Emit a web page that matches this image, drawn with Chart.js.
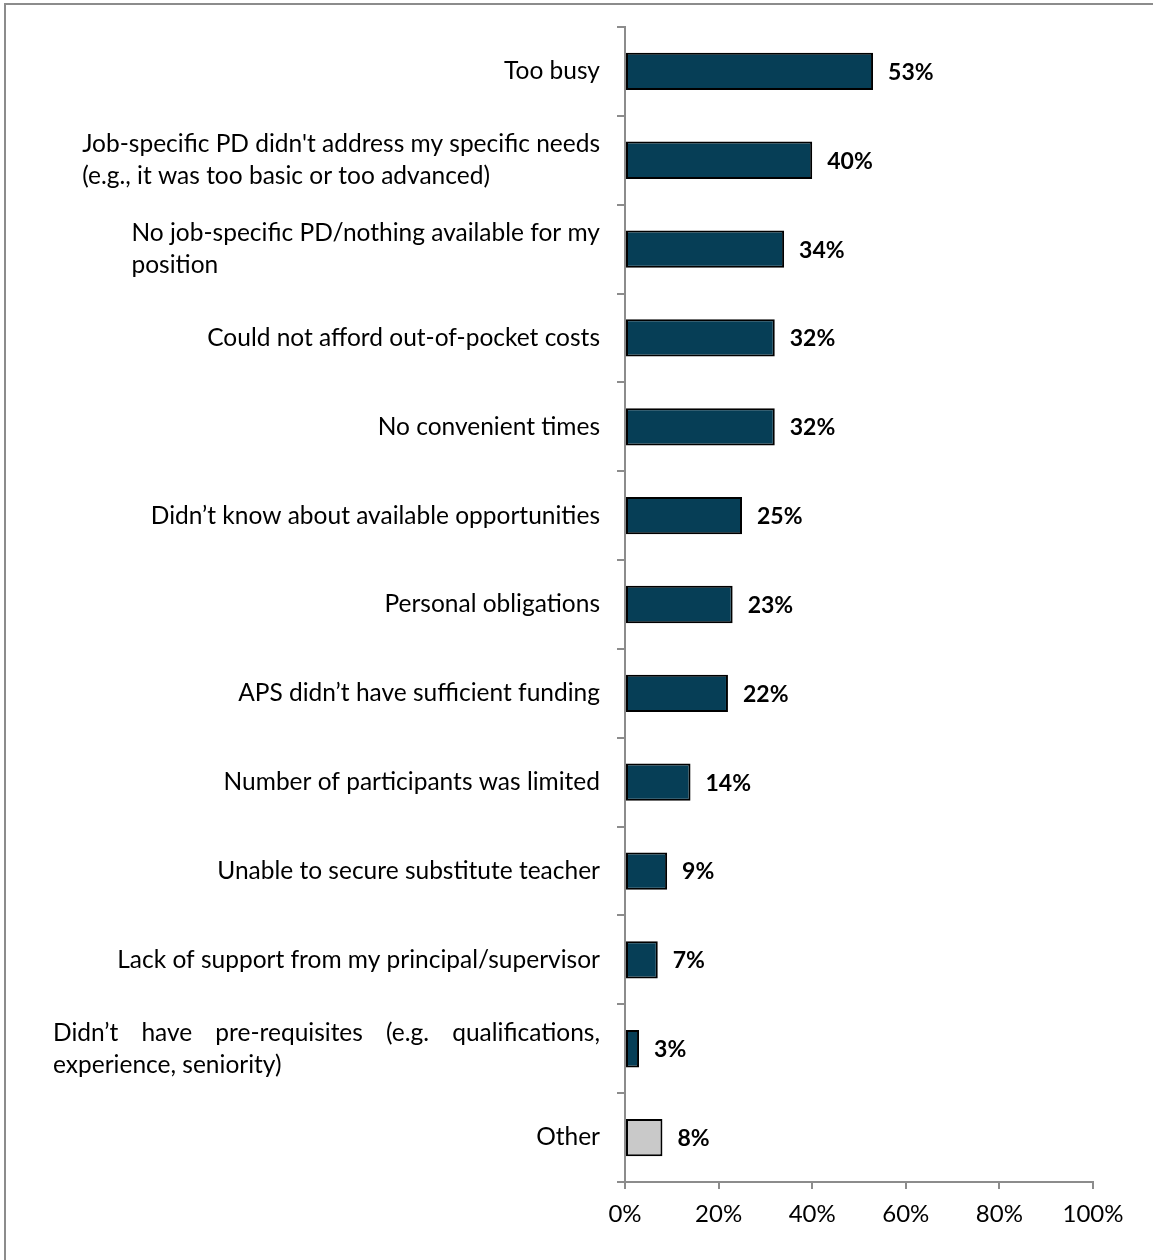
<!DOCTYPE html>
<html>
<head>
<meta charset="utf-8">
<script src="https://cdn.jsdelivr.net/npm/chart.js@4.4.1/dist/chart.umd.min.js"></script>
<style>
  html, body { margin: 0; padding: 0; background: #fff; }
  #wrap {
    position: absolute; left: 4px; top: 3px; width: 1149px; height: 1257px;
    border-top: 2px solid #8c8c8c; border-left: 2px solid #8c8c8c;
  }
  #chart { position: absolute; left: 0; top: 0; }
</style>
</head>
<body>
<div id="wrap"></div>
<canvas id="chart" width="1153" height="1260"></canvas>
<script>
// reasons for not taking part in PD, each label split into its lines
let categories = [
    ["Too busy"],
    ["Job-specific PD didn't address my specific needs", "(e.g., it was too basic or too advanced)"],
    ["No job-specific PD/nothing available for my", "position"],
    ["Could not afford out-of-pocket costs"],
    ["No convenient times"],
    ["Didn\u2019t know about available opportunities"],
    ["Personal obligations"],
    ["APS didn\u2019t have sufficient funding"],
    ["Number of participants was limited"],
    ["Unable to secure substitute teacher"],
    ["Lack of support from my principal/supervisor"],
    ["Didn\u2019t have pre-requisites (e.g. qualifications,", "experience, seniority)"],
    ["Other"]
];
let percents = [53, 40, 34, 32, 32, 25, 23, 22, 14, 9, 7, 3, 8];
let xTicks = [0, 20, 40, 60, 80, 100];

// the one label whose first line is spread out to full width
let justifiedIndex = 11;
let justifiedWidth = 547;

let LABEL_FONT = "24.5px Lato";
let VALUE_FONT = "bold 23px Lato";
let AXIS_COLOR = "#8c8c8c";

let barColors = percents.map((v, i) => i === categories.length - 1 ? "#c9c9c9" : "#063e56");

// draws the category names to the left of the axis, left-aligned inside a right-aligned block
const categoryLabels = {
    id: "categoryLabels",
    afterDraw(chart) {
        let ctx = chart.ctx;
        let yScale = chart.scales.y;
        let right = chart.chartArea.left - 25;
        let lineHeight = 32;
        ctx.save();
        ctx.font = LABEL_FONT;
        ctx.fillStyle = "#000";
        ctx.textBaseline = "middle";
        ctx.textAlign = "left";
        categories.forEach((lines, i) => {
            let cy = yScale.getPixelForValue(i);
            let widths = lines.map(l => ctx.measureText(l).width);
            let blockW = i === justifiedIndex ? justifiedWidth : Math.max(...widths);
            let left = right - blockW;
            let top = cy - (lines.length - 1) * lineHeight / 2;
            lines.forEach((line, j) => {
                let y = top + j * lineHeight;
                if (i === justifiedIndex && j < lines.length - 1) {
                    let words = line.split(" ");
                    let wordsW = words.reduce((s, w) => s + ctx.measureText(w).width, 0);
                    let gap = (blockW - wordsW) / (words.length - 1);
                    let x = left;
                    words.forEach(w => {
                        ctx.fillText(w, x, y);
                        x += ctx.measureText(w).width + gap;
                    });
                } else {
                    ctx.fillText(line, left, y);
                }
            });
        });
        ctx.restore();
    }
};

// percentage labels just past the end of each bar
const valueLabels = {
    id: "valueLabels",
    afterDatasetsDraw(chart) {
        let ctx = chart.ctx;
        let meta = chart.getDatasetMeta(0);
        ctx.save();
        ctx.font = VALUE_FONT;
        ctx.fillStyle = "#000";
        ctx.textBaseline = "middle";
        ctx.textAlign = "left";
        meta.data.forEach((bar, i) => {
            ctx.fillText(percents[i] + "%", bar.x + 15, bar.y + 1);
        });
        ctx.restore();
    }
};

let ctx = document.getElementById("chart").getContext("2d");
new Chart(ctx, {
    type: "bar",
    data: {
        labels: categories.map(l => l.join(" ")),
        datasets: [{
            data: percents,
            backgroundColor: barColors,
            borderColor: "#000",
            borderWidth: 2,
            borderSkipped: false,
            categoryPercentage: 1,
            barPercentage: 0.42
        }]
    },
    options: {
        indexAxis: "y",
        responsive: false,
        animation: false,
        layout: { padding: { left: 625, top: 27, right: 60, bottom: 0 } },
        plugins: {
            legend: { display: false },
            tooltip: { enabled: false }
        },
        scales: {
            x: {
                min: 0,
                max: 100,
                afterBuildTicks(scale) {
                    scale.ticks = xTicks.map(v => ({ value: v }));
                },
                afterFit(scale) { scale.height = 78; },
                border: { color: AXIS_COLOR, width: 2 },
                grid: {
                    drawOnChartArea: false,
                    color: AXIS_COLOR,
                    lineWidth: 2,
                    tickLength: 7
                },
                ticks: {
                    color: "#000",
                    font: { family: "Lato", size: 24 },
                    padding: 11,
                    maxRotation: 0,
                    callback: v => v + "%"
                }
            },
            y: {
                afterFit(scale) { scale.width = 0; },
                border: { color: AXIS_COLOR, width: 2 },
                grid: {
                    offset: true,
                    drawOnChartArea: false,
                    color: AXIS_COLOR,
                    lineWidth: 2,
                    tickLength: 8
                },
                ticks: { display: false }
            }
        }
    },
    plugins: [categoryLabels, valueLabels]
});
</script>
</body>
</html>
